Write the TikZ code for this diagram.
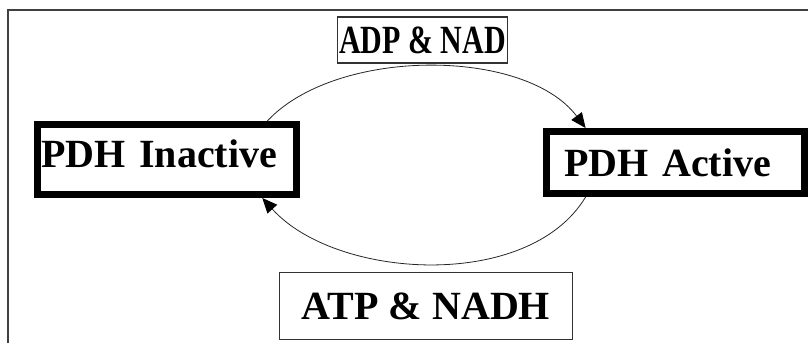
\documentclass[tikz,border=0pt]{standalone}
\usepackage{fontspec}
\setmainfont{Liberation Serif}
\usetikzlibrary{arrows.meta}
\begin{document}
\begin{tikzpicture}[x=1pt,y=1pt,
    thick box/.style={draw=black,line width=7pt,align=left,
      font=\bfseries\fontsize{40}{48}\selectfont},
    thin box/.style={draw=black!80,line width=1.3pt,inner xsep=0pt,
      font=\bfseries\fontsize{40}{48}\selectfont},
    cycle arrow/.style={draw=black!85,line width=0.8pt,
      -{Triangle[length=15pt,width=13pt,fill=black,color=black]}}]
  \useasboundingbox (0,0) rectangle (808,343);
  \draw[black!75,line width=1.5pt] (8,0) |- (808,333);
  \node[thick box,minimum width=259pt,minimum height=70pt,inner xsep=4pt,
    text width=251pt,text depth=11pt] (inactive) at (167,183.5) {PDH Inactive};
  \node[thick box,minimum width=258pt,minimum height=62pt,inner xsep=18pt,
    text width=222pt] (active) at (675.5,180.5) {PDH Active};
  \node[thin box,minimum width=170pt,minimum height=46pt] (adpnad) at (422.5,303)
    {\scalebox{0.75}[1]{ADP \& NAD}};
  \node[thin box,minimum width=293pt,minimum height=67pt] (atpnadh) at (426,37)
    {ATP \& NADH};
  \draw[cycle arrow] (inactive.21) to[out=47,in=127,looseness=0.81] (active.159);
  \draw[cycle arrow] (active.201) to[out=239,in=312,looseness=0.87] (inactive.338);
\end{tikzpicture}
\end{document}
